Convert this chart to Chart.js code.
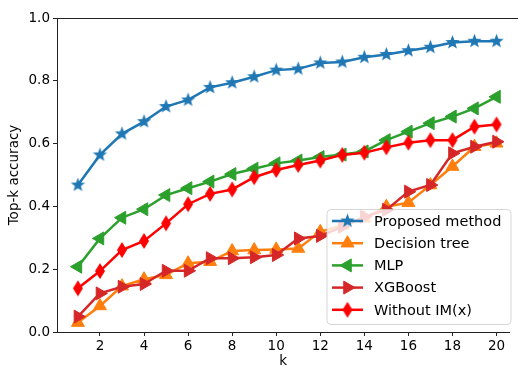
<!DOCTYPE html>
<html>
<head>
<meta charset="utf-8">
<script src="https://cdn.jsdelivr.net/npm/chart.js@4/dist/chart.umd.min.js"></script>
<style>
    html, body { margin: 0; padding: 0; background: #fff; }
    #chart { display: block; }
</style>
</head>
<body>
<canvas id="chart" width="518" height="366"></canvas>
<script>
// Data
const kValues = [1, 2, 3, 4, 5, 6, 7, 8, 9, 10, 11, 12, 13, 14, 15, 16, 17, 18, 19, 20];
const proposedMethod = [0.468, 0.564, 0.631, 0.670, 0.718, 0.739, 0.779, 0.794, 0.813, 0.834, 0.838, 0.857, 0.860, 0.875, 0.884, 0.896, 0.907, 0.922, 0.926, 0.926];
const decisionTree = [0.030, 0.083, 0.146, 0.168, 0.182, 0.219, 0.224, 0.258, 0.261, 0.263, 0.266, 0.319, 0.340, 0.362, 0.399, 0.412, 0.468, 0.527, 0.590, 0.601];
const mlp = [0.208, 0.298, 0.364, 0.391, 0.436, 0.458, 0.479, 0.503, 0.520, 0.537, 0.546, 0.557, 0.565, 0.575, 0.611, 0.638, 0.665, 0.686, 0.712, 0.749];
const xgboost = [0.049, 0.123, 0.144, 0.153, 0.195, 0.195, 0.235, 0.235, 0.238, 0.245, 0.298, 0.306, 0.335, 0.367, 0.389, 0.447, 0.468, 0.569, 0.590, 0.606];
const withoutIM = [0.139, 0.194, 0.261, 0.290, 0.346, 0.407, 0.440, 0.454, 0.493, 0.516, 0.532, 0.546, 0.564, 0.571, 0.588, 0.603, 0.611, 0.611, 0.654, 0.661];

const xTicks = [2, 4, 6, 8, 10, 12, 14, 16, 18, 20];
const yTicks = [0, 0.2, 0.4, 0.6, 0.8, 1.0];

const FONT = "'DejaVu Sans', sans-serif";

// filled five-point star like matplotlib's '*'
function makeStar(color, r) {
    const size = Math.ceil(r * 2 + 2);
    const c = document.createElement('canvas');
    c.width = size; c.height = size;
    const g = c.getContext('2d');
    const cx = size / 2, cy = size / 2, inner = r * 0.42;
    g.beginPath();
    for (let i = 0; i < 10; i++) {
        const rad = i % 2 === 0 ? r : inner;
        const a = -Math.PI / 2 + i * Math.PI / 5;
        const px = cx + rad * Math.cos(a), py = cy + rad * Math.sin(a);
        if (i === 0) g.moveTo(px, py); else g.lineTo(px, py);
    }
    g.closePath();
    g.fillStyle = color;
    g.fill();
    return c;
}

// thin diamond like matplotlib's 'd'
function makeThinDiamond(color, w, h) {
    const c = document.createElement('canvas');
    c.width = w + 2; c.height = h + 2;
    const g = c.getContext('2d');
    const cx = c.width / 2, cy = c.height / 2;
    g.beginPath();
    g.moveTo(cx, cy - h / 2);
    g.lineTo(cx + w / 2, cy);
    g.lineTo(cx, cy + h / 2);
    g.lineTo(cx - w / 2, cy);
    g.closePath();
    g.fillStyle = color;
    g.fill();
    return c;
}

function toPoints(values) {
    return kValues.map((k, i) => ({ x: k, y: values[i] }));
}

const series = [
    { label: 'Proposed method', values: proposedMethod, color: '#1f77b4', style: makeStar('#1f77b4', 7.5), radius: 7, rotation: 0 },
    { label: 'Decision tree', values: decisionTree, color: '#ff7f0e', style: 'triangle', radius: 7.5, rotation: 0 },
    { label: 'MLP', values: mlp, color: '#2ca02c', style: 'triangle', radius: 7.5, rotation: -90 },
    { label: 'XGBoost', values: xgboost, color: '#d62728', style: 'triangle', radius: 7.5, rotation: 90 },
    { label: 'Without IM(x)', values: withoutIM, color: '#ff0000', style: makeThinDiamond('#ff0000', 10, 16), radius: 7, rotation: 0 }
];

const datasets = series.map((s, i) => ({
    label: s.label,
    data: toPoints(s.values),
    borderColor: s.color,
    backgroundColor: s.color,
    borderWidth: 2.5,
    pointStyle: s.style,
    pointRadius: s.radius,
    pointRotation: s.rotation,
    pointBackgroundColor: s.color,
    pointBorderColor: s.color,
    pointBorderWidth: 1,
    tension: 0,
    fill: false,
    clip: false,
    order: series.length - i
}));

// frame (top spine) and in-axes legend
const framePlugin = {
    id: 'frame',
    afterDraw(chart) {
        const { ctx, chartArea } = chart;
        ctx.save();
        ctx.strokeStyle = '#222';
        ctx.lineWidth = 1;
        ctx.beginPath();
        ctx.moveTo(chartArea.left, chartArea.top + 0.5);
        ctx.lineTo(chart.width, chartArea.top + 0.5);
        ctx.stroke();

        // legend box
        const bx = 327, by = 209.5, bw = 184, bh = 115, r = 4;
        ctx.beginPath();
        ctx.moveTo(bx + r, by);
        ctx.arcTo(bx + bw, by, bx + bw, by + bh, r);
        ctx.arcTo(bx + bw, by + bh, bx, by + bh, r);
        ctx.arcTo(bx, by + bh, bx, by, r);
        ctx.arcTo(bx, by, bx + bw, by, r);
        ctx.closePath();
        ctx.fillStyle = 'rgba(255,255,255,0.8)';
        ctx.fill();
        ctx.strokeStyle = 'rgba(204,204,204,0.8)';
        ctx.stroke();

        ctx.font = '14.5px ' + FONT;
        ctx.textBaseline = 'middle';
        ctx.textAlign = 'left';
        series.forEach((s, i) => {
            const y = 221 + i * 22.2;
            ctx.strokeStyle = s.color;
            ctx.lineWidth = 2.5;
            ctx.beginPath();
            ctx.moveTo(332, y);
            ctx.lineTo(363, y);
            ctx.stroke();
            ctx.fillStyle = s.color;
            ctx.lineWidth = 1;
            Chart.helpers.drawPoint(ctx, { pointStyle: s.style, radius: s.radius, rotation: s.rotation, borderWidth: 1 }, 347.5, y);
            ctx.fillStyle = '#000';
            ctx.fillText(s.label, 374, y + 1);
        });
        ctx.restore();
    }
};

new Chart(document.getElementById('chart'), {
    type: 'line',
    data: { datasets: datasets },
    options: {
        responsive: false,
        animation: false,
        devicePixelRatio: 1,
        layout: { padding: { top: 18, right: 0, left: 0, bottom: 0 } },
        plugins: {
            legend: { display: false },
            tooltip: { enabled: false }
        },
        scales: {
            x: {
                type: 'linear',
                min: 0.05,
                max: 20.59,
                afterFit: scale => { scale.height = 34; },
                afterBuildTicks: scale => { scale.ticks = xTicks.map(v => ({ value: v })); },
                grid: { drawOnChartArea: false, tickLength: 4, color: '#222' },
                border: { display: true, color: '#222', width: 1 },
                ticks: { font: { family: FONT, size: 13.5 }, color: '#000', padding: 2, maxRotation: 0 },
                title: { display: true, text: 'k', font: { family: FONT, size: 13.5 }, color: '#000', padding: { top: 0, bottom: -3.5 } }
            },
            y: {
                min: 0,
                max: 1,
                afterFit: scale => { scale.width = 57; },
                afterBuildTicks: scale => { scale.ticks = yTicks.map(v => ({ value: v })); },
                grid: { drawOnChartArea: false, tickLength: 4, color: '#222' },
                border: { display: true, color: '#222', width: 1 },
                ticks: { font: { family: FONT, size: 13.5 }, color: '#000', padding: 3, callback: v => v.toFixed(1) },
                title: { display: true, text: 'Top-k accuracy', font: { family: FONT, size: 13.5 }, color: '#000', padding: { top: 6, bottom: 0 } }
            }
        }
    },
    plugins: [framePlugin]
});
</script>
</body>
</html>
